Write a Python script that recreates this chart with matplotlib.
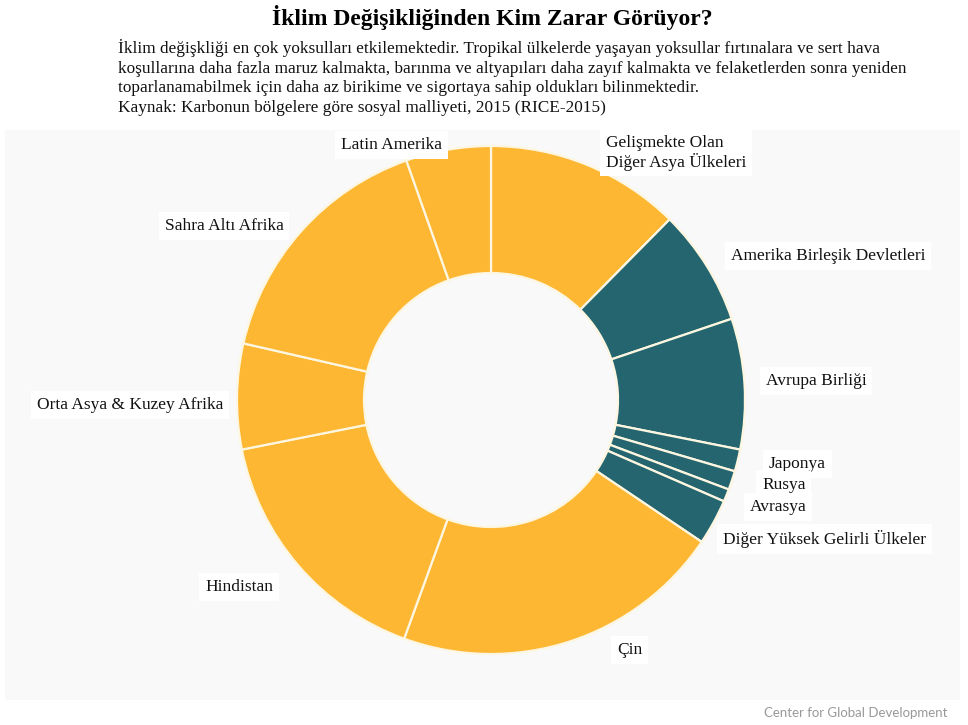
import matplotlib
matplotlib.use("Agg")
import matplotlib.pyplot as plt
from matplotlib.patches import Rectangle

# share of social cost of carbon by region (percent)
regions = ["Gelişmekte Olan\nDiğer Asya Ülkeleri", "Amerika Birleşik Devletleri",
           "Avrupa Birliği", "Japonya", "Rusya", "Avrasya",
           "Diğer Yüksek Gelirli Ülkeler", "Çin", "Hindistan",
           "Orta Asya & Kuzey Afrika", "Sahra Altı Afrika", "Latin Amerika"]
shares = [12.4, 7.4, 8.3, 1.4, 1.2, 0.8, 2.9, 21.1, 16.3, 6.7, 16.0, 5.4]
high_income = [False, True, True, True, True, True, True,
               False, False, False, False, False]

GOLD = "#fdb733"
TEAL = "#256570"
W, H = 968, 725

# label anchor positions in pixels (left x, centre y)
label_pos = [(606, 153), (731, 256), (766, 381), (769, 464), (762, 485),
             (750, 507), (723, 539), (617, 650), (205, 587), (37, 405),
             (165, 226), (341, 145)]

plt.rcParams['font.family'] = ['Liberation Serif', 'DejaVu Serif']

fig = plt.figure(figsize=(W / 100, H / 100), dpi=100)
fig.patch.set_facecolor("white")

# light grey panel behind the chart
fig.patches.append(Rectangle((5 / W, 1 - 700 / H), 955 / W, 570 / H,
                             transform=fig.transFigure, facecolor="#f9f9f9",
                             edgecolor="none", zorder=-10))

cx, cy, r = 491, 400, 254
ax = fig.add_axes([(cx - r) / W, 1 - (cy + r) / H, 2 * r / W, 2 * r / H])
ax.set_zorder(1)
ax.patch.set_visible(False)
colors = [TEAL if h else GOLD for h in high_income]
ax.pie(shares, colors=colors, startangle=90, counterclock=False, radius=1,
       wedgeprops=dict(width=0.5, edgecolor="#fdf6e0", linewidth=1.6))
ax.set_xlim(-1, 1)
ax.set_ylim(-1, 1)
ax.set_aspect("equal")
ax.axis("off")

for name, (px, py) in zip(regions, label_pos):
    fig.text(px / W, 1 - py / H, name, ha="left", va="center", fontsize=12.5,
             color="#111111", linespacing=1.1, zorder=2,
             bbox=dict(facecolor="white", edgecolor="none", pad=4))

fig.text(492 / W, 1 - 18 / H, "İklim Değişikliğinden Kim Zarar Görüyor?",
         ha="center", va="center", fontsize=17, fontweight="bold")
sub = ("İklim değişkliği en çok yoksulları etkilemektedir. Tropikal ülkelerde yaşayan "
       "yoksullar fırtınalara ve sert hava\nkoşullarına daha fazla maruz kalmakta, "
       "barınma ve altyapıları daha zayıf kalmakta ve felaketlerden sonra yeniden\n"
       "toparlanamabilmek için daha az birikime ve sigortaya sahip oldukları "
       "bilinmektedir.\nKaynak: Karbonun bölgelere göre sosyal malliyeti, 2015 (RICE-2015)")
fig.text(118 / W, 1 - 39 / H, sub, ha="left", va="top", fontsize=12.4,
         linespacing=1.3, color="#111111")

fig.text(947 / W, 1 - 713 / H, "Center for Global Development", ha="right",
         va="center", fontsize=9.5, color="#999999", family=["Lato", "DejaVu Sans"])

fig.savefig("out.png", dpi=100)
